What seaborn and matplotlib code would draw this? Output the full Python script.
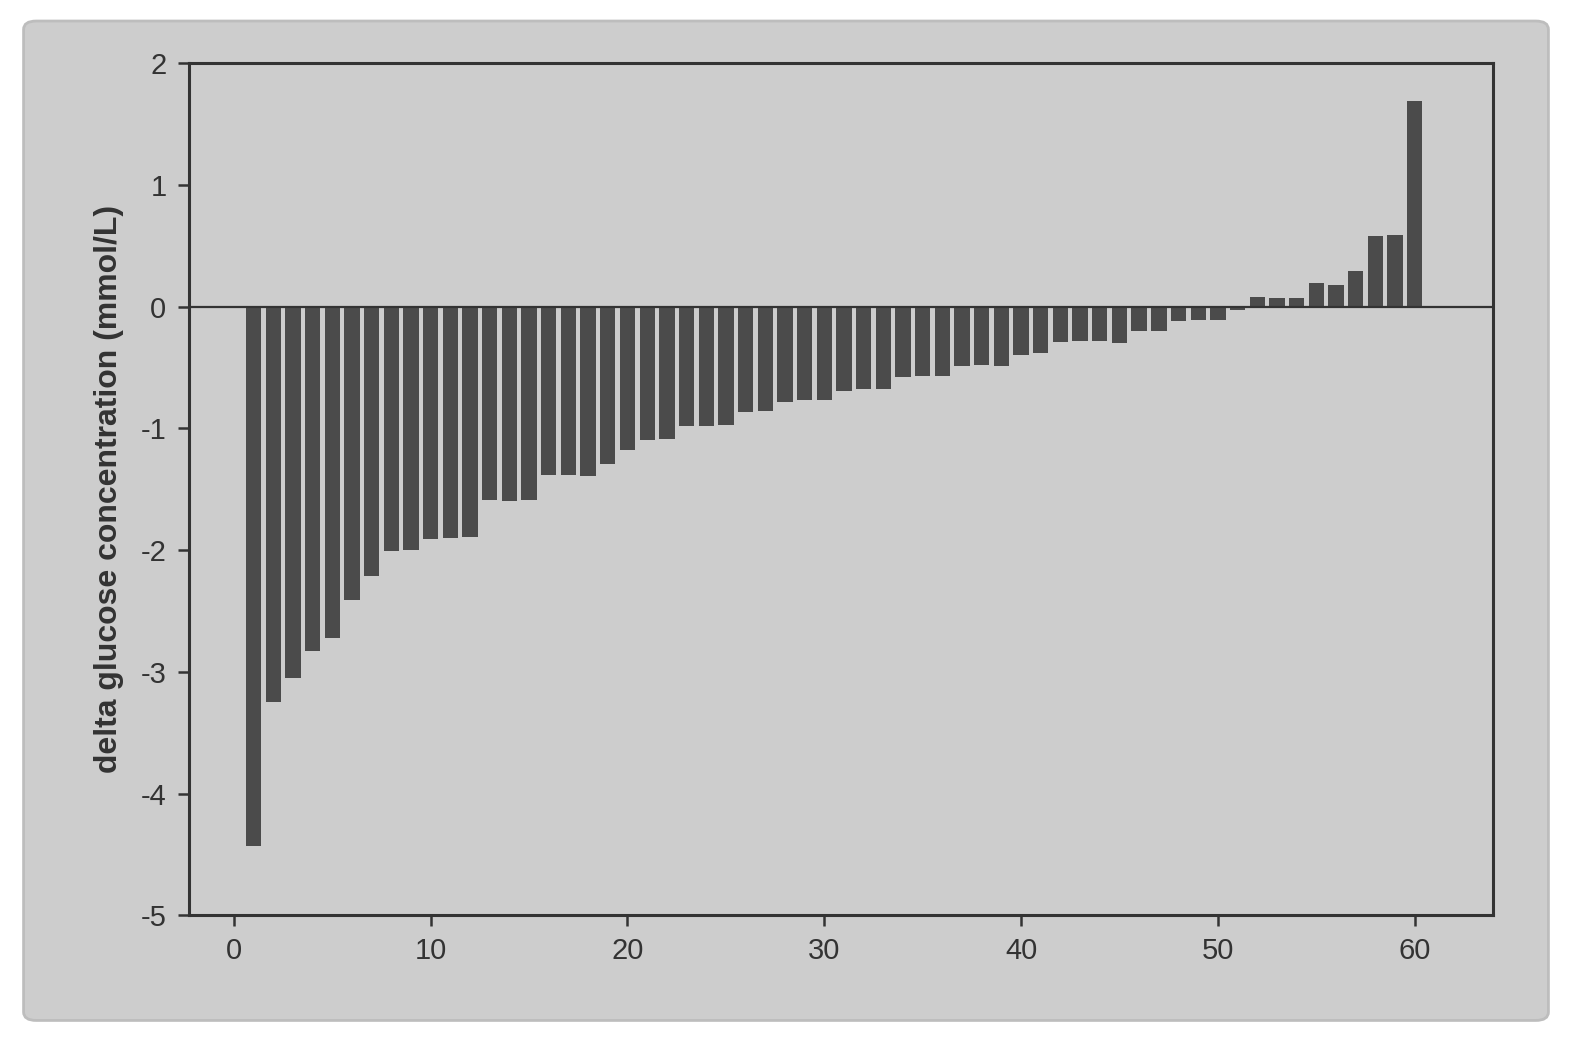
import numpy as np
import pandas as pd
import matplotlib
matplotlib.use("Agg")
import matplotlib.pyplot as plt
from matplotlib.patches import FancyBboxPatch
import seaborn as sns

# ---- data ----
subject = list(range(1, 61))
delta_glucose = [
    -4.43, -3.25, -3.05, -2.83, -2.72, -2.41, -2.21, -2.01, -2.00, -1.91,
    -1.90, -1.89, -1.59, -1.60, -1.59, -1.38, -1.38, -1.39, -1.29, -1.18,
    -1.10, -1.09, -0.98, -0.98, -0.97, -0.87, -0.86, -0.78, -0.77, -0.77,
    -0.69, -0.68, -0.68, -0.58, -0.57, -0.57, -0.49, -0.48, -0.49, -0.40,
    -0.38, -0.29, -0.28, -0.28, -0.30, -0.20, -0.20, -0.12, -0.11, -0.11,
    -0.03, 0.08, 0.07, 0.07, 0.19, 0.18, 0.29, 0.58, 0.59, 1.69,
]
x_ticks = [0, 10, 20, 30, 40, 50, 60]
y_ticks = [-5, -4, -3, -2, -1, 0, 1, 2]
y_label = "delta glucose concentration (mmol/L)"

df = pd.DataFrame({"subject": subject, "delta": delta_glucose})

sns.set_theme(style="ticks")
plt.rcParams["font.family"] = ["Liberation Sans", "DejaVu Sans"]

panel = "#cdcdcd"
bar_col = "#4b4b4b"
ink = "#333333"

fig = plt.figure(figsize=(15.72, 10.52), dpi=100, facecolor="white")

# slide-like grey panel drawn in a background axes
bg = fig.add_axes([0, 0, 1, 1], zorder=-5)
bg.set_axis_off()
bg.set_xlim(0, 1)
bg.set_ylim(0, 1)
bg.add_patch(FancyBboxPatch((0.015, 0.03), 0.97, 0.95,
                            boxstyle="round,pad=0,rounding_size=0.008",
                            facecolor=panel, edgecolor="#bdbdbd", linewidth=2))

ax = fig.add_axes([0.12, 0.13, 0.83, 0.81], zorder=1)
ax.set_facecolor(panel)

sns.barplot(data=df, x="subject", y="delta", native_scale=True, color=bar_col,
            saturation=1, width=0.78, edgecolor="none", ax=ax, zorder=3)

ax.axhline(0, color=ink, linewidth=1.6, zorder=4)
ax.set_xlim(-2.3, 64)
ax.set_ylim(-5, 2)
ax.set_xticks(x_ticks)
ax.set_yticks(y_ticks)
ax.set_xticklabels([str(t) for t in x_ticks], fontsize=21, color=ink)
ax.set_yticklabels([str(t) for t in y_ticks], fontsize=21, color=ink)
ax.tick_params(axis="both", direction="out", length=8, width=1.8, color=ink, pad=8)
for s in ax.spines.values():
    s.set_visible(True)
    s.set_color(ink)
    s.set_linewidth(2.2)
ax.set_xlabel("")
ax.set_ylabel(y_label, fontsize=23, fontweight="bold", color=ink, labelpad=12)

fig.savefig("out.png", dpi=100, facecolor=fig.get_facecolor())
